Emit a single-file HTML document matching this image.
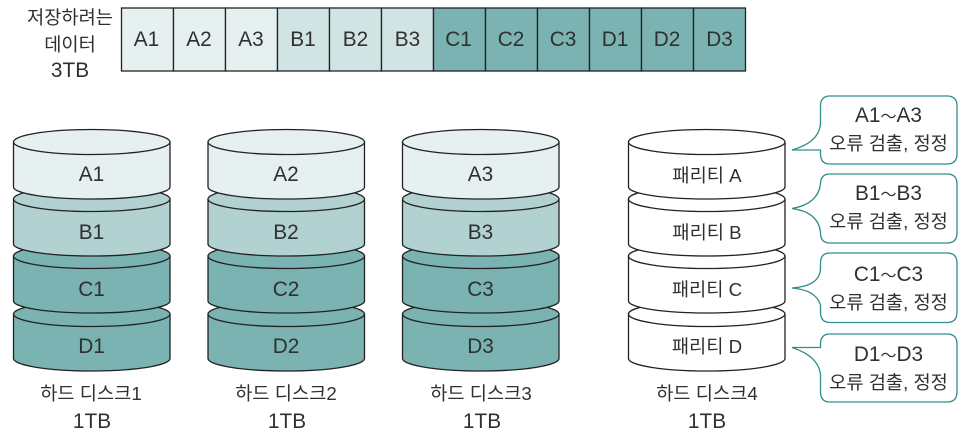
<!DOCTYPE html>
<html lang="ko">
<head>
<meta charset="utf-8">
<style>
html,body{margin:0;padding:0;background:#fff;width:963px;height:437px;overflow:hidden}
svg{display:block}
text{font-family:"Liberation Sans","Noto Sans CJK KR",sans-serif;font-size:20.8px;fill:#303030;text-anchor:middle;font-weight:400}
.k{font-size:18.7px}
.t{font-size:16px}
</style>
</head>
<body>
<svg width="963" height="437" viewBox="0 0 963 437" xmlns="http://www.w3.org/2000/svg">
<defs>
<g id="dA" stroke="#222" stroke-width="1.3">
<path d="M0 142V187A78.250 12 0 0 0 156.500 187V142Z"/>
<ellipse cx="78.250" cy="142" rx="78.250" ry="12.500"/>
</g>
<g id="dB" stroke="#222" stroke-width="1.3">
<path d="M0 199V244A78.250 12 0 0 0 156.500 244V199Z"/>
<ellipse cx="78.250" cy="199" rx="78.250" ry="12.500"/>
</g>
<g id="dC" stroke="#222" stroke-width="1.300">
<path d="M0 256V301A78.250 12 0 0 0 156.500 301V256Z"/>
<ellipse cx="78.250" cy="256" rx="78.250" ry="12.500"/>
</g>
<g id="dD" stroke="#222" stroke-width="1.300">
<path d="M0 314V358.500A78.250 12.500 0 0 0 156.500 358.500V314Z"/>
<ellipse cx="78.250" cy="314" rx="78.250" ry="12.500"/>
</g>
<g id="stack">
<use href="#dD" fill="#7ab3b1"/>
<use href="#dC" fill="#7ab3b1"/>
<use href="#dB" fill="#b1d2d1"/>
<use href="#dA" fill="#e7f0f1"/>
</g>
<g id="stackW" fill="#fff">
<use href="#dD"/>
<use href="#dC"/>
<use href="#dB"/>
<use href="#dA"/>
</g>
</defs>

<!-- top bar -->
<g stroke="#222" stroke-width="1.300">
<rect x="121.500" y="8" width="52" height="63" fill="#e7f0f1"/>
<rect x="173.500" y="8" width="52" height="63" fill="#e7f0f1"/>
<rect x="225.500" y="8" width="52" height="63" fill="#e7f0f1"/>
<rect x="277.500" y="8" width="52" height="63" fill="#d0e4e3"/>
<rect x="329.500" y="8" width="52" height="63" fill="#d0e4e3"/>
<rect x="381.500" y="8" width="52" height="63" fill="#d0e4e3"/>
<rect x="433.500" y="8" width="52" height="63" fill="#7ab3b1"/>
<rect x="485.500" y="8" width="52" height="63" fill="#7ab3b1"/>
<rect x="537.500" y="8" width="52" height="63" fill="#7ab3b1"/>
<rect x="589.500" y="8" width="52" height="63" fill="#7ab3b1"/>
<rect x="641.500" y="8" width="52" height="63" fill="#7ab3b1"/>
<rect x="693.500" y="8" width="52" height="63" fill="#7ab3b1"/>
</g>
<text x="146.500" y="46">A1</text>
<text x="199" y="46">A2</text>
<text x="251" y="46">A3</text>
<text x="303" y="46">B1</text>
<text x="355.500" y="46">B2</text>
<text x="407.500" y="46">B3</text>
<text x="458.500" y="46">C1</text>
<text x="511" y="46">C2</text>
<text x="563" y="46">C3</text>
<text x="615" y="46">D1</text>
<text x="667" y="46">D2</text>
<text x="719.500" y="46">D3</text>

<text class="k" x="70" y="24">저장하려는</text>
<text class="k" x="70" y="51">데이터</text>
<text x="70" y="77">3TB</text>

<!-- cylinders -->
<use href="#stack" x="13.500"/>
<use href="#stack" x="208"/>
<use href="#stack" x="402.500"/>
<use href="#stackW" x="628.500"/>

<text x="91.500" y="181">A1</text>
<text x="91.500" y="239">B1</text>
<text x="91.500" y="296">C1</text>
<text x="91.500" y="353">D1</text>
<text x="286" y="181">A2</text>
<text x="286" y="239">B2</text>
<text x="286" y="296">C2</text>
<text x="286" y="353">D2</text>
<text x="480.500" y="181">A3</text>
<text x="480.500" y="239">B3</text>
<text x="480.500" y="296">C3</text>
<text x="480.500" y="353">D3</text>
<text class="k" x="707" y="182">패리티 A</text>
<text class="k" x="707" y="239">패리티 B</text>
<text class="k" x="707" y="296">패리티 C</text>
<text class="k" x="707" y="353">패리티 D</text>

<text class="k" x="91" y="400">하드 디스크1</text>
<text x="92" y="428">1TB</text>
<text class="k" x="286" y="400">하드 디스크2</text>
<text x="287" y="428">1TB</text>
<text class="k" x="481" y="400">하드 디스크3</text>
<text x="482" y="428">1TB</text>
<text class="k" x="707" y="400">하드 디스크4</text>
<text x="707" y="428">1TB</text>

<!-- callouts -->
<g fill="#fff" stroke="#2f8f8c" stroke-width="1.300">
<path d="M830 96H947Q957 96 957 106V154Q957 164 947 164H830Q820.500 164 820.500 154V150H792Q820.500 142 820.500 122V106Q820.500 96 830 96Z"/>
<path d="M830 174H947Q957 174 957 184V233Q957 243 947 243H830Q820.500 243 820.500 233V232Q818 212 792 208.500Q818 204 820.500 184Q820.500 174 830 174Z"/>
<path d="M830 253H947Q957 253 957 263V312Q957 322.500 947 322.500H830Q820.500 322.500 820.500 312V305Q816 290 792 288Q820.500 286 820.500 268V263Q820.500 253 830 253Z"/>
<path d="M830 334H947Q957 334 957 344V392Q957 402 947 402H830Q820.500 402 820.500 392V374Q818 356 792 347.500H820.500V344Q820.500 334 830 334Z"/>
</g>
<text x="888.500" y="122">A1<tspan class="t">～</tspan>A3</text>
<text class="k" x="888.500" y="150">오류 검출, 정정</text>
<text x="888.500" y="200">B1<tspan class="t">～</tspan>B3</text>
<text class="k" x="888.500" y="228">오류 검출, 정정</text>
<text x="888.500" y="281">C1<tspan class="t">～</tspan>C3</text>
<text class="k" x="888.500" y="309">오류 검출, 정정</text>
<text x="888.500" y="361">D1<tspan class="t">～</tspan>D3</text>
<text class="k" x="888.500" y="389">오류 검출, 정정</text>
</svg>
</body>
</html>
